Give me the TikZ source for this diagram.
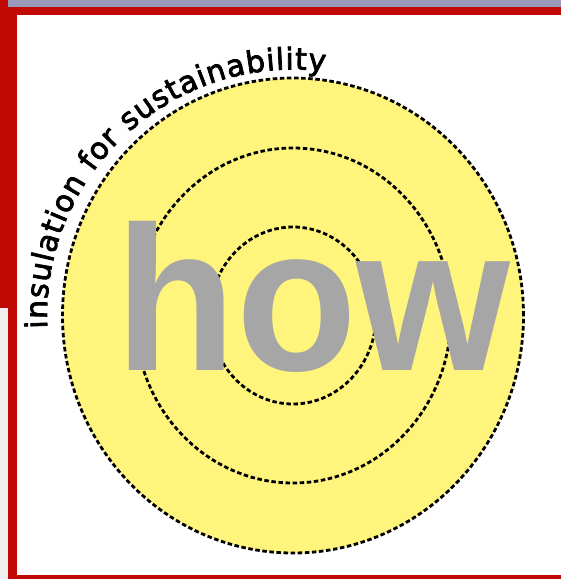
\documentclass[tikz,border=0pt]{standalone}
\usepackage{fontspec}
\usetikzlibrary{decorations.text}
\newfontfamily\boldsans{Liberation Sans}
\newfontface\arcsans[FakeBold=2.5]{DejaVu Sans}
\definecolor{frame}{RGB}{192,8,4}
\definecolor{band}{RGB}{154,154,186}
\definecolor{disc}{RGB}{255,245,125}
\definecolor{word}{RGB}{166,166,166}
\definecolor{margin}{RGB}{240,240,240}
\begin{document}
\begin{tikzpicture}[x=1pt,y=1pt,
  ring/.style={draw=black, line width=2.8pt, dash pattern=on 4.5pt off 2.6pt}]
\useasboundingbox (0,0) rectangle (561,-579);
% page and slide frame
\fill[white] (0,0) rectangle (561,-579);
\fill[margin] (0,-308) rectangle (8,-579);
\fill[frame] (0,0) rectangle (17,-308);
\fill[frame] (8,-308) rectangle (17,-579);
\fill[frame] (0,0) rectangle (561,-15);
\fill[band] (8,0) rectangle (561,-7);
\fill[frame] (8,-575) rectangle (561,-579);
% target disc with its three dashed rings
\coordinate (c) at (293,-315.5);
\fill[disc] (c) ellipse [x radius=230.5, y radius=237.5];
\draw[ring] (c) ellipse [x radius=230.5, y radius=237.5];
\draw[ring] (c) ellipse [x radius=158, y radius=167.5];
\draw[ring] (c) ellipse [x radius=83, y radius=88.5];
% large word across the disc
\node[anchor=base west, inner sep=0, text=word,
      font=\boldsans\bfseries\fontsize{206}{206}\selectfont] (how) at (115,-370)
      {\scalebox{0.96}[1]{how}};
% arched caption
\path[decorate, decoration={text along path, text align={fit to path},
      text={|\arcsans\fontsize{30}{30}\selectfont|insulation for sustainability}}]
  (c) ++(183:246) arc [start angle=183, end angle=82.5, radius=246];
\end{tikzpicture}
\end{document}
